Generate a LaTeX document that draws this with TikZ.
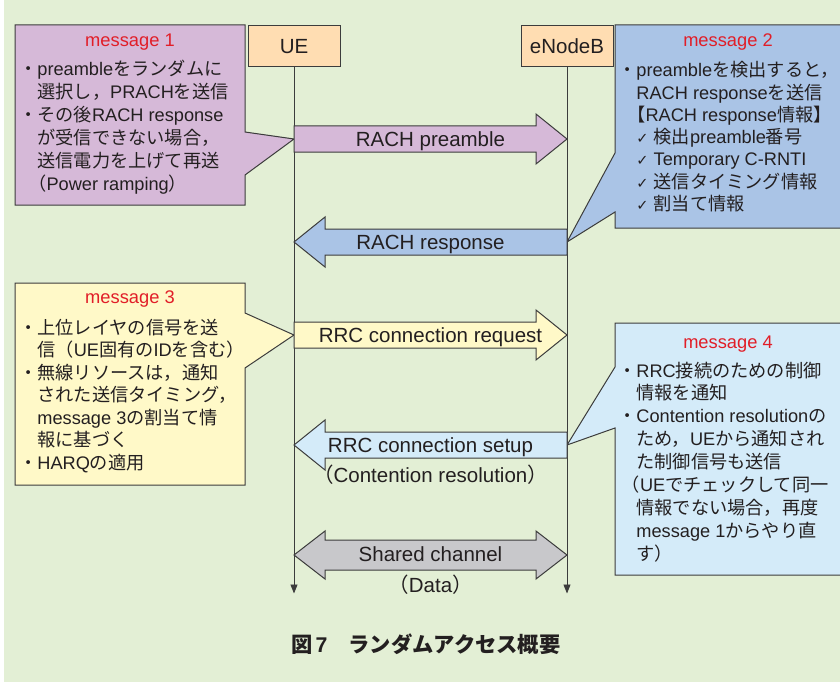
\documentclass[tikz,border=0pt]{standalone}
\usepackage{fontspec}
\setmainfont{Liberation Sans}
\newfontfamily\jafont{Noto Sans CJK JP}
\newfontfamily\checkfont{DejaVu Sans}
\usetikzlibrary{arrows.meta, calc}

\definecolor{bg}{RGB}{227,239,213}
\definecolor{msgA}{RGB}{214,185,216}
\definecolor{msgB}{RGB}{170,196,230}
\definecolor{msgC}{RGB}{255,249,200}
\definecolor{msgD}{RGB}{212,235,249}
\definecolor{peach}{RGB}{255,221,178}
\definecolor{shared}{RGB}{200,200,203}
\definecolor{titlered}{RGB}{225,30,40}
\definecolor{ink}{RGB}{35,31,32}
\definecolor{edge}{RGB}{60,60,60}

%Japanese font for kana, kanji and full-width signs
\newXeTeXintercharclass\jaclass
\newXeTeXintercharclass\chkclass
\newcount\jacode
\newcommand\jarange[2]{\jacode=#1\relax
  \loop\XeTeXcharclass\jacode=\jaclass
  \ifnum\jacode<#2\relax\advance\jacode by 1\repeat}
\jarange{"3000}{"30FF}
\jarange{"4E00}{"9FFF}
\jarange{"FF00}{"FFEF}
\XeTeXcharclass"2713=\chkclass
\XeTeXinterchartoks 0 \jaclass={\jafont}
\XeTeXinterchartoks 4095 \jaclass={\jafont}
\XeTeXinterchartoks \jaclass 0={\rmfamily}
\XeTeXinterchartoks 4095 0={\rmfamily}
\XeTeXinterchartokenstate=1

\newcommand\chk{\makebox[0.95em][l]{\fontsize{14.5}{14}\checkfont ✓}}

\begin{document}
\begin{tikzpicture}[x=1pt, y=-1pt,
	lifebox/.style={draw=edge, line width=1pt, fill=peach, minimum width=92pt, minimum height=41pt, inner sep=0pt, text=ink, font=\fontsize{20.5}{24}\selectfont},
	lifeline/.style={draw=edge, line width=0.9pt, -{Triangle[width=7pt,length=9pt]}},
	callout/.style={draw=edge, line width=1pt},
	fat/.style={draw=edge, line width=1pt},
	msgtitle/.style={anchor=base, inner sep=0pt, text=titlered, font=\fontsize{18.3}{22}\selectfont},
	msgtext/.style={anchor=base west, inner sep=0pt, text=ink, font=\fontsize{18.2}{22}\selectfont},
	arrlabel/.style={anchor=base, inner sep=0pt, text=ink, font=\fontsize{20.5}{24}\selectfont}]

%Background
\fill[white] (0,0) rectangle (840,682);
\fill[bg] (4,0) rectangle (840,682);
\path[use as bounding box, clip] (0,0) rectangle (840,682);

%Lifelines
\node[lifebox] (ue) at (294,46.5) {UE};
\node[lifebox] (enb) at (567,46.5) {eNodeB};

\draw[lifeline] (ue.south) -- ++(0,526);
\draw[lifeline] (enb.south) -- ++(0,526);

%%%%%%%%%%%%%%%%%%
%Coordinates

\coordinate (ue1) at (294,139);
\coordinate (enb1) at (567,139);
\coordinate (ue2) at (294,242);
\coordinate (enb2) at (567,242);
\coordinate (ue3) at (294,335);
\coordinate (enb3) at (567,335);
\coordinate (ue4) at (294,445);
\coordinate (enb4) at (567,445);
\coordinate (ue5) at (294,555);
\coordinate (enb5) at (567,555);

%Callouts
\filldraw[callout, fill=msgA] (15,25) -- (245,25) -- (245,132) -- (ue1) -- (245,175) -- (245,205) -- (15,205) -- cycle;
\filldraw[callout, fill=msgB] (615,25) -- (842,25) -- (842,228) -- (615,228) -- (615,212) -- (enb2) -- (615,153) -- cycle;
\filldraw[callout, fill=msgC] (15,283) -- (245,283) -- (245,313) -- (ue3) -- (245,368) -- (245,485) -- (15,485) -- cycle;
\filldraw[callout, fill=msgD] (615,323) -- (842,323) -- (842,575) -- (615,575) -- (615,428) -- (enb4) -- (615,367) -- cycle;

%Arrows
\filldraw[fat, fill=msgA] (ue1) ++(0,-13) -- ++(242,0) -- ++(0,-12) -- (enb1) -- ++(-31,25) -- ++(0,-12) -- ++(-242,0) -- cycle;
\filldraw[fat, fill=msgB] (enb2) ++(0,-13) -- ++(-242,0) -- ++(0,-12) -- (ue2) -- ++(31,25) -- ++(0,-12) -- ++(242,0) -- cycle;
\filldraw[fat, fill=msgC] (ue3) ++(0,-13) -- ++(242,0) -- ++(0,-12) -- (enb3) -- ++(-31,25) -- ++(0,-12) -- ++(-242,0) -- cycle;
\filldraw[fat, fill=msgD] (enb4) ++(0,-13) -- ++(-242,0) -- ++(0,-12) -- (ue4) -- ++(31,25) -- ++(0,-12) -- ++(242,0) -- cycle;
\filldraw[fat, fill=shared] (ue5) -- ++(31,-24) -- ++(0,9) -- ++(211,0) -- ++(0,-9) -- (enb5) -- ++(-31,24) -- ++(0,-9) -- ++(-211,0) -- ++(0,9) -- cycle;

% Arrow labels
\node[arrlabel] (l1) at ($(ue1)!0.5!(enb1)+(0,7.4)$) {RACH preamble};
\node[arrlabel] (l2) at ($(ue2)!0.5!(enb2)+(0,7.4)$) {RACH response};
\node[arrlabel] (l3) at ($(ue3)!0.5!(enb3)+(0,7.4)$) {RRC connection request};
\node[arrlabel] (l4) at ($(ue4)!0.5!(enb4)+(0,7.4)$) {RRC connection setup};
\node[arrlabel] (l4b) at ($(ue4)!0.5!(enb4)+(0,37)$) {（Contention resolution）};
\node[arrlabel] (l5) at ($(ue5)!0.5!(enb5)+(0,6.5)$) {Shared channel};
\node[arrlabel] (l5b) at ($(ue5)!0.5!(enb5)+(0,37)$) {（Data）};

% Messages
\node[msgtitle] (m1) at (130,47) {message 1};
\foreach \txt [count=\i] in {
	{・preambleをランダムに},
	{\hspace{1em}選択し，PRACHを送信},
	{・その後RACH response},
	{\hspace{1em}が受信できない場合，},
	{\hspace{1em}送信電力を上げて再送},
	{\hspace{0.5em}（Power ramping）}}
	\node[msgtext] (m1-\i) at (19,{75.5+23*(\i-1)}) {\txt};

\node[msgtitle] (m2) at (728,47) {message 2};
\foreach \txt [count=\i] in {
	{・preambleを検出すると，},
	{\hspace{1em}RACH responseを送信},
	{\hspace{0.5em}【RACH response情報】},
	{\hspace{1em}\chk 検出preamble番号},
	{\hspace{1em}\chk Temporary C-RNTI},
	{\hspace{1em}\chk 送信タイミング情報},
	{\hspace{1em}\chk 割当て情報}}
	\node[msgtext] (m2-\i) at (618,{77+22.2*(\i-1)}) {\txt};

\node[msgtitle] (m3) at (130,303) {message 3};
\foreach \txt [count=\i] in {
	{・上位レイヤの信号を送},
	{\hspace{1em}信（UE固有のIDを含む）},
	{・無線リソースは，通知},
	{\hspace{1em}された送信タイミング，},
	{\hspace{1em}message 3の割当て情},
	{\hspace{1em}報に基づく},
	{・HARQの適用}}
	\node[msgtext] (m3-\i) at (19,{334+22.5*(\i-1)}) {\txt};

\node[msgtitle] (m4) at (728,348) {message 4};
\foreach \txt [count=\i] in {
	{・RRC接続のための制御},
	{\hspace{1em}情報を通知},
	{・Contention resolutionの},
	{\hspace{1em}ため，UEから通知され},
	{\hspace{1em}た制御信号も送信},
	{\hspace{0.2em}（UEでチェックして同一},
	{\hspace{1em}情報でない場合，再度},
	{\hspace{1em}message 1からやり直},
	{\hspace{1em}す）}}
	\node[msgtext] (m4-\i) at (618,{377+22.9*(\i-1)}) {\txt};

% Caption
\node[anchor=base west, inner sep=0pt, text=ink, font=\bfseries\fontsize{21.3}{24}\selectfont] (cap) at (291,652) {図\hspace{3pt}7　ランダムアクセス概要};

\end{tikzpicture}
\end{document}
